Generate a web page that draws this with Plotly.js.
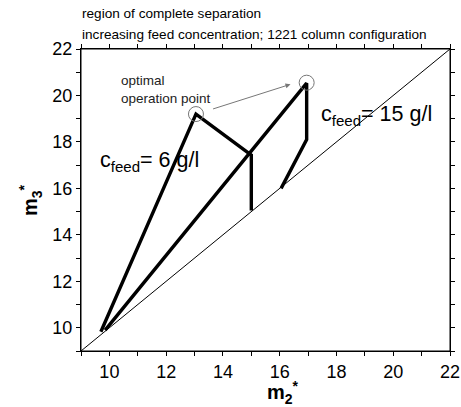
<!DOCTYPE html>
<html><head><meta charset="utf-8">
<script src="https://cdn.plot.ly/plotly-3.0.1.min.js"></script>
<style>html,body{margin:0;padding:0;background:#fff}#c{width:461px;height:407px}</style>
</head><body><div id="c"></div>
<script>
// Data
var diagX = [9, 22];
var diagY = [9, 22];
var feed6X = [9.7, 13.05, 15.0, 15.0];
var feed6Y = [9.83, 19.2, 17.43, 15.05];
var feed15X = [9.85, 16.95, 16.95, 16.05];
var feed15Y = [9.9, 20.53, 18.1, 16.0];
var optX = [13.05, 16.95];
var optY = [19.2, 20.55];
var tickVals = [9, 10, 11, 12, 13, 14, 15, 16, 17, 18, 19, 20, 21, 22];
var tickText = ['', '10', '', '12', '', '14', '', '16', '', '18', '', '20', '', '22'];

var FONT = "Liberation Sans, Arial, sans-serif";
var traces = [
  {x: diagX, y: diagY, mode: 'lines', line: {color: '#000', width: 1}, hoverinfo: 'skip'},
  {x: feed6X, y: feed6Y, mode: 'lines', line: {color: '#000', width: 3.4}},
  {x: feed15X, y: feed15Y, mode: 'lines', line: {color: '#000', width: 3.4}},
  {x: optX, y: optY, mode: 'markers', marker: {symbol: 'circle-open', size: 15, color: '#777', line: {width: 1, color: '#777'}}}
];
function ax() {
  return {
    range: [9, 22], tickmode: 'array', tickvals: tickVals, ticktext: tickText,
    showgrid: false, zeroline: false,
    showline: true, linecolor: '#000', linewidth: 1, mirror: 'allticks',
    ticks: 'outside', ticklen: 4, tickwidth: 1, tickcolor: '#000',
    tickfont: {family: FONT, size: 18, color: '#000'}
  };
}
var layout = {
  width: 461, height: 407, showlegend: false,
  paper_bgcolor: '#fff', plot_bgcolor: '#fff',
  margin: {l: 81, r: 11, t: 49, b: 56},
  xaxis: ax(),
  yaxis: ax(),
  shapes: [
    {type: 'rect', xref: 'paper', yref: 'paper', x0: 0, x1: 1, y0: 0, y1: 1, layer: 'above',
     line: {color: '#000', width: 1}, fillcolor: 'rgba(0,0,0,0)'}
  ],
  annotations: [
    {xref: 'paper', yref: 'paper', x: -0.003, y: 1.0, yshift: 36, xanchor: 'left', yanchor: 'middle', showarrow: false,
     text: 'region of complete separation', font: {family: FONT, size: 13.6, color: '#000'}},
    {xref: 'paper', yref: 'paper', x: -0.003, y: 1.0, yshift: 15, xanchor: 'left', yanchor: 'middle', showarrow: false,
     text: 'increasing feed concentration; 1221 column configuration', font: {family: FONT, size: 13.6, color: '#000'}},
    {xref: 'paper', yref: 'paper', x: 0.547, y: -0.136, xanchor: 'center', yanchor: 'middle', showarrow: false,
     text: '<b>m<sub>2</sub><sup>*</sup></b>', font: {family: FONT, size: 20, color: '#000'}},
    {xref: 'paper', yref: 'paper', x: -0.138, y: 0.5, xanchor: 'center', yanchor: 'middle', showarrow: false, textangle: -90,
     text: '<b>m<sub>3</sub><sup>*</sup></b>', font: {family: FONT, size: 20, color: '#000'}},
    {xref: 'x', yref: 'y', x: 10.35, y: 20.25, xanchor: 'left', yanchor: 'middle', showarrow: false, align: 'left',
     text: 'optimal<br>operation point', font: {family: FONT, size: 13.5, color: '#222'}},
    {xref: 'x', yref: 'y', axref: 'x', ayref: 'y', x: 16.38, y: 20.48, ax: 13.6, ay: 19.4,
     showarrow: true, arrowhead: 2, arrowsize: 1, arrowwidth: 1, arrowcolor: '#777', text: ''},
    {xref: 'x', yref: 'y', x: 9.6, y: 17.15, xanchor: 'left', yanchor: 'middle', showarrow: false,
     text: 'c<sub>feed</sub>= 6 g/l', font: {family: FONT, size: 21.5, color: '#000'}},
    {xref: 'x', yref: 'y', x: 17.4, y: 19.15, xanchor: 'left', yanchor: 'middle', showarrow: false,
     text: 'c<sub>feed</sub>= 15 g/l', font: {family: FONT, size: 21.5, color: '#000'}}
  ]
};
Plotly.newPlot('c', traces, layout, {displayModeBar: false});
</script></body></html>
